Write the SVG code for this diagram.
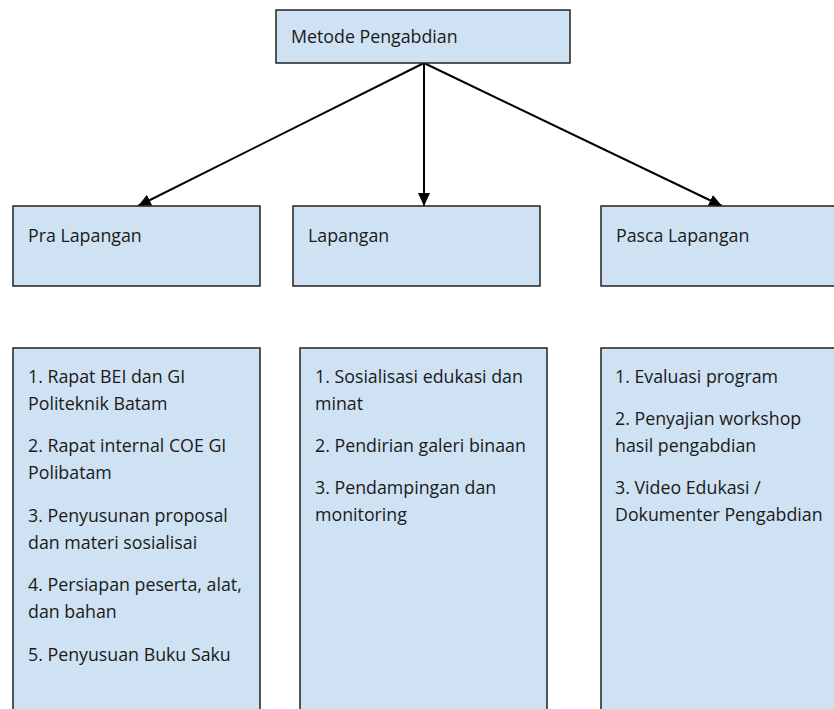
<svg xmlns="http://www.w3.org/2000/svg" width="834" height="709" viewBox="0 0 834 709">
<defs>
<style>
.box{fill:#cfe2f3;stroke:#222;stroke-width:1.5}
.t{font-family:"Open Sans","Noto Sans",sans-serif;font-size:17.8px;fill:#1a1a1a}
.c{stroke:#000;stroke-width:2;fill:none}
</style>
<marker id="ah" markerUnits="userSpaceOnUse" markerWidth="14" markerHeight="12" refX="13" refY="6" orient="auto">
<path d="M0,0 L13,6 L0,12 z" fill="#000"/>
</marker>
</defs>
<rect width="834" height="709" fill="#fff"/>
<g id="connectors">
<line class="c" x1="424" y1="63" x2="138" y2="206" marker-end="url(#ah)"/>
<line class="c" x1="424" y1="63" x2="424" y2="206" marker-end="url(#ah)"/>
<line class="c" x1="424" y1="63" x2="722" y2="206" marker-end="url(#ah)"/>
</g>
<g id="metode">
<rect class="box" x="276" y="10" width="294" height="53"/>
<text class="t" x="291" y="43">Metode Pengabdian</text>
</g>
<g id="pra">
<rect class="box" x="13" y="206" width="247" height="80"/>
<text class="t" x="28" y="242">Pra Lapangan</text>
</g>
<g id="lapangan">
<rect class="box" x="293" y="206" width="247" height="80"/>
<text class="t" x="308" y="242">Lapangan</text>
</g>
<g id="pasca">
<rect class="box" x="601" y="206" width="247" height="80"/>
<text class="t" x="616" y="242">Pasca Lapangan</text>
</g>
<g id="pra-list">
<rect class="box" x="13" y="348" width="247" height="370"/>
<text class="t" x="28" y="383">1. Rapat BEI dan GI</text>
<text class="t" x="28" y="410">Politeknik Batam</text>
<text class="t" x="28" y="452">2. Rapat internal COE GI</text>
<text class="t" x="28" y="479">Polibatam</text>
<text class="t" x="28" y="522">3. Penyusunan proposal</text>
<text class="t" x="28" y="549">dan materi sosialisai</text>
<text class="t" x="28" y="591">4. Persiapan peserta, alat,</text>
<text class="t" x="28" y="618">dan bahan</text>
<text class="t" x="28" y="661">5. Penyusuan Buku Saku</text>
</g>
<g id="lapangan-list">
<rect class="box" x="300" y="348" width="247" height="370"/>
<text class="t" x="315" y="383">1. Sosialisasi edukasi dan</text>
<text class="t" x="315" y="410">minat</text>
<text class="t" x="315" y="452">2. Pendirian galeri binaan</text>
<text class="t" x="315" y="494">3. Pendampingan dan</text>
<text class="t" x="315" y="521">monitoring</text>
</g>
<g id="pasca-list">
<rect class="box" x="601" y="348" width="247" height="370"/>
<text class="t" x="615" y="383">1. Evaluasi program</text>
<text class="t" x="615" y="425">2. Penyajian workshop</text>
<text class="t" x="615" y="452">hasil pengabdian</text>
<text class="t" x="615" y="494">3. Video Edukasi /</text>
<text class="t" x="615" y="521">Dokumenter Pengabdian</text>
</g>
</svg>
